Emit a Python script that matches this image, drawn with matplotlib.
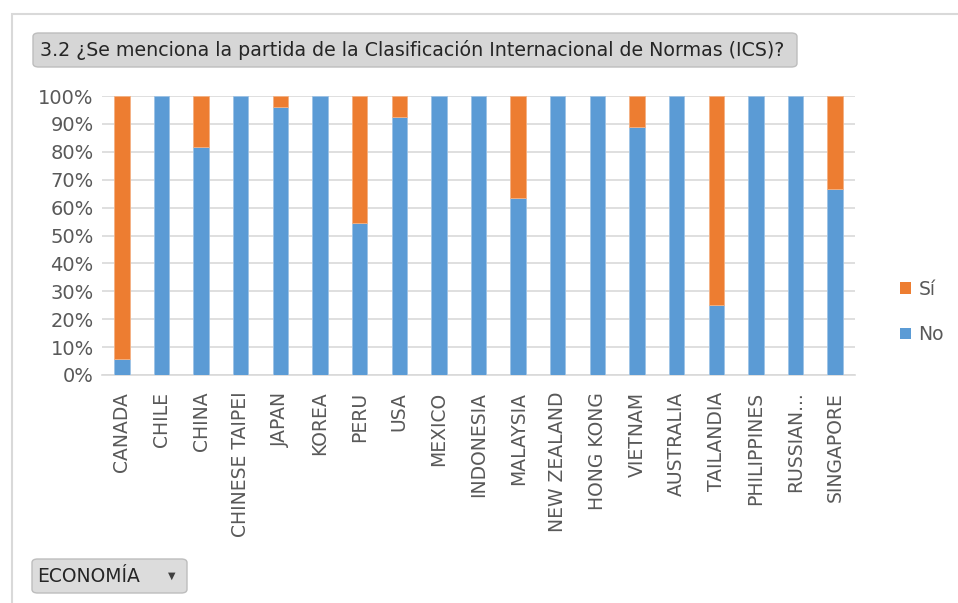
import matplotlib
matplotlib.use("Agg")
import matplotlib.pyplot as plt
from matplotlib.patches import FancyBboxPatch, Rectangle, Patch
import numpy as np

# ---------------------------------------------------------------------------
# Data (share of "No" answers per economy; "Sí" is the remainder)
# ---------------------------------------------------------------------------
economies = [
    "CANADA", "CHILE", "CHINA", "CHINESE TAIPEI", "JAPAN", "KOREA", "PERU",
    "USA", "MEXICO", "INDONESIA", "MALAYSIA", "NEW ZEALAND", "HONG KONG",
    "VIETNAM", "AUSTRALIA", "TAILANDIA", "PHILIPPINES", "RUSSIAN...",
    "SINGAPORE",
]
no_pct = [5.6, 100, 81.8, 100, 96.0, 100, 54.5, 92.3, 100, 100, 63.6, 100,
          100, 88.9, 100, 25.0, 100, 100, 66.7]
si_pct = [100 - v for v in no_pct]

title = "3.2 ¿Se menciona la partida de la Clasificación Internacional de Normas (ICS)?"
filter_label = "ECONOMÍA"

BLUE = "#5B9BD5"
ORANGE = "#ED7D31"
TEXT = "#595959"
GRID = "#D9D9D9"

W, H = 958, 603
fig = plt.figure(figsize=(W / 100, H / 100), dpi=100)
fig.patch.set_facecolor("white")

# outer chart border (runs off the right and bottom edges)
fig.patches.append(Rectangle((12 / W, -0.05), 1.0, 1.05 - 14 / H, transform=fig.transFigure,
                             fill=False, edgecolor="#D9D9D9", linewidth=1.5))

# title button
fig.patches.append(FancyBboxPatch((33 / W, 1 - 67 / H), (797 - 33) / W, 34 / H,
                                  boxstyle="round,pad=0,rounding_size=0.006",
                                  transform=fig.transFigure, facecolor="#D6D6D6",
                                  edgecolor="#BDBDBD", linewidth=1))
fig.text(40 / W, 1 - 50 / H, title, fontsize=13.7, color="#262626",
         va="center", ha="left")

# filter button
fig.patches.append(FancyBboxPatch((32 / W, 1 - 593 / H), (187 - 32) / W, 34 / H,
                                  boxstyle="round,pad=0,rounding_size=0.006",
                                  transform=fig.transFigure, facecolor="#DCDCDC",
                                  edgecolor="#BDBDBD", linewidth=1))
fig.text(37 / W, 1 - 577 / H, filter_label, fontsize=13.5, color="#262626",
         va="center", ha="left")
fig.text(172 / W, 1 - 576 / H, "\u25BC", fontsize=7, color="#404040",
         va="center", ha="center")

# ---------------------------------------------------------------------------
# Stacked bars
# ---------------------------------------------------------------------------
ax = fig.add_axes([102 / W, 1 - 375 / H, (855 - 102) / W, (375 - 96) / H])
x = np.arange(len(economies))
ax.bar(x, no_pct, width=0.39, color=BLUE, edgecolor="#9DC3E6", linewidth=0.6,
       label="No", zorder=3)
# only draw the "Sí" segment where it exists, so full bars get no orange rim
si_lw = [0.6 if v > 0 else 0 for v in si_pct]
ax.bar(x, si_pct, width=0.39, bottom=no_pct, color=ORANGE, edgecolor="#F4B183",
       linewidth=si_lw, label="Sí", zorder=3)

ax.set_xlim(-0.5, len(economies) - 0.5)
ax.set_ylim(0, 100)
ax.set_yticks(range(0, 101, 10))
ax.set_yticklabels([f"{v}%" for v in range(0, 101, 10)], fontsize=14, color=TEXT)
ax.set_xticks(x)
ax.set_xticklabels(economies, rotation=90, fontsize=13.5, color=TEXT)
ax.tick_params(axis="x", length=0, pad=12)
ax.tick_params(axis="y", length=0, pad=6)
ax.grid(axis="y", color=GRID, linewidth=1.2, zorder=0)
for side in ("top", "right", "left"):
    ax.spines[side].set_visible(False)
ax.spines["bottom"].set_color(GRID)
ax.spines["bottom"].set_linewidth(1.2)

handles = [Patch(facecolor=ORANGE, label="Sí"), Patch(facecolor=BLUE, label="No")]
fig.legend(handles=handles, loc="center left", bbox_to_anchor=(883 / W, 1 - 312 / H),
           frameon=False, fontsize=13.5, labelcolor=TEXT, handlelength=0.6,
           handleheight=0.6, handletextpad=0.4, labelspacing=1.4)

fig.savefig("out.png", dpi=100)
